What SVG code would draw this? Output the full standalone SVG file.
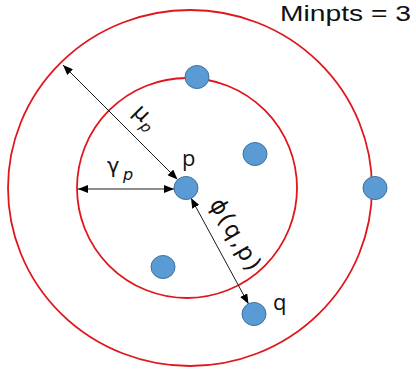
<svg xmlns="http://www.w3.org/2000/svg" width="416" height="373" viewBox="0 0 416 373">
  <style>
    .ring { fill: none; stroke: #e0161c; stroke-width: 1.8; }
    .pt { fill: #5b9bd5; stroke: #41719c; stroke-width: 1; }
    .conn { stroke: #1a1a1a; stroke-width: 1; fill: none; marker-start: url(#ah); marker-end: url(#ah); }
    .lbl { font-family: "Open Sans", "DejaVu Sans", sans-serif; fill: #111; }
    .gk { font-family: "DejaVu Sans", "Liberation Sans", sans-serif; fill: #111; }
  </style>
  <defs>
    <marker id="ah" viewBox="0 0 10 8" refX="10" refY="4" markerWidth="10" markerHeight="8" markerUnits="userSpaceOnUse" orient="auto-start-reverse">
      <path d="M0,0 L10,4 L0,8 z" fill="#000"/>
    </marker>
  </defs>
  <rect width="416" height="373" fill="#fff"/>

  <g id="outer-ring"><ellipse class="ring" cx="190" cy="188" rx="182" ry="178"/></g>
  <g id="inner-ring"><ellipse class="ring" cx="187" cy="188" rx="110" ry="110"/></g>

  <g id="connectors">
    <line class="conn" x1="63" y1="65" x2="177.5" y2="179.5"/>
    <line class="conn" x1="78" y1="189" x2="174" y2="189"/>
    <line class="conn" x1="191" y1="198" x2="248.5" y2="304"/>
  </g>

  <g id="point-p"><ellipse class="pt" cx="186" cy="188" rx="12" ry="11.5"/></g>
  <g id="point-top"><ellipse class="pt" cx="197" cy="77" rx="12" ry="11.5"/></g>
  <g id="point-inner-right"><ellipse class="pt" cx="255" cy="154" rx="12" ry="11.5"/></g>
  <g id="point-outer-right"><ellipse class="pt" cx="375" cy="188" rx="12" ry="11.5"/></g>
  <g id="point-lower-left"><ellipse class="pt" cx="163" cy="267" rx="12" ry="11.5"/></g>
  <g id="point-q"><ellipse class="pt" cx="254" cy="314" rx="12" ry="11.5"/></g>

  <g id="labels">
    <text x="280" y="21" font-family="Liberation Sans, Arial, sans-serif" fill="#111" font-size="22.5" textLength="131" lengthAdjust="spacingAndGlyphs">Minpts = 3</text>
    <text class="lbl" x="182" y="166" font-size="22">p</text>
    <text class="lbl" x="273" y="310" font-size="22">q</text>
    <text class="gk" transform="translate(132,113) rotate(45)" font-size="22">μ<tspan font-size="15" font-style="italic" dx="1" dy="5">p</tspan></text>
    <text class="gk" x="107" y="173" font-size="21">γ<tspan font-size="16" font-style="italic" x="123" y="180">p</tspan></text>
    <text class="gk" transform="translate(209,204) rotate(60)" font-size="23" textLength="79" lengthAdjust="spacing">ϕ(q,p)</text>
  </g>
</svg>
